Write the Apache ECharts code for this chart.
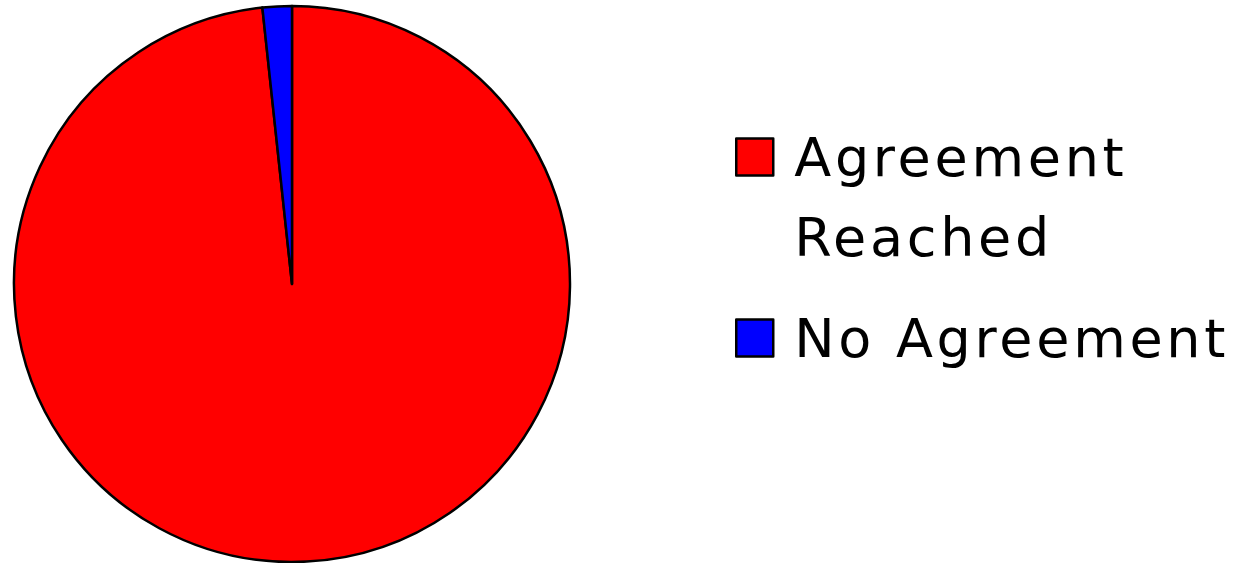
<!DOCTYPE html>
<html>
<head>
<meta charset="utf-8">
<script src="https://cdn.jsdelivr.net/npm/echarts@6/dist/echarts.min.js"></script>
<style>
    html, body { margin: 0; padding: 0; background: #fff; }
    #chart { width: 1235px; height: 563px; }
    /* wide letter spacing of the legend labels */
    #chart text { letter-spacing: 3.7px; }
</style>
</head>
<body>
<div id="chart"></div>
<script>
    var categories = ['Agreement Reached', 'No Agreement'];
    var shares = [98.3, 1.7];
    var colors = ['#ff0000', '#0000ff'];

    var chart = echarts.init(document.getElementById('chart'), null, {renderer: 'svg'});

    var pieData = categories.map(function (name, i) {
        return {name: name, value: shares[i], itemStyle: {color: colors[i]}};
    });

    var option = {
        animation: false,
        legend: {
            orient: 'vertical',
            left: 735,
            top: 37,
            padding: 0,
            itemWidth: 37,
            itemHeight: 37,
            itemGap: 21,
            icon: 'rect',
            itemStyle: {borderColor: '#000', borderWidth: 2.5},
            textStyle: {
                fontFamily: 'DejaVu Sans',
                fontSize: 54,
                lineHeight: 80,
                color: '#000',
                padding: [0, 0, 0, 16]
            },
            // empty first line keeps "Agreement" level with its box
            formatter: function (name) {
                return name === 'Agreement Reached' ? '\nAgreement\nReached' : name;
            },
            data: categories
        },
        series: [
            {
                type: 'pie',
                center: [292, 284],
                radius: 278,
                startAngle: 90,
                clockwise: true,
                label: {show: false},
                labelLine: {show: false},
                emphasis: {disabled: true},
                itemStyle: {borderColor: '#000', borderWidth: 2.5},
                data: pieData
            }
        ]
    };
    chart.setOption(option);
</script>
</body>
</html>
